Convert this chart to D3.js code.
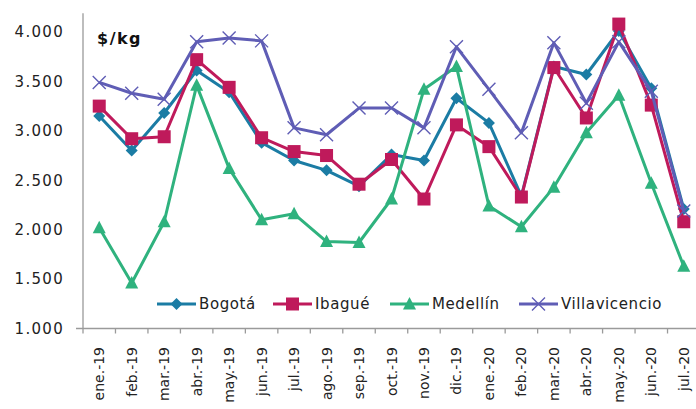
<!DOCTYPE html>
<html>
<head>
<meta charset="utf-8">
<script src="https://cdn.jsdelivr.net/npm/d3@7"></script>
<style>
  body { margin: 0; background: #fff; }
  svg text { font-family: "DejaVu Sans", sans-serif; fill: #222; }
</style>
</head>
<body>
<svg id="chart" width="696" height="409"></svg>
<script>
// months
var months = ["ene.-19", "feb.-19", "mar.-19", "abr.-19", "may.-19", "jun.-19", "jul.-19",
  "ago.-19", "sep.-19", "oct.-19", "nov.-19", "dic.-19", "ene.-20", "feb.-20", "mar.-20",
  "abr.-20", "may.-20", "jun.-20", "jul.-20"];

// $/kg by city
var bogota = [3150, 2800, 3180, 3610, 3390, 2880, 2700, 2600, 2440, 2760, 2700, 3330, 3080, 2340, 3650, 3570, 4010, 3430, 2210];
var ibague = [3250, 2920, 2940, 3720, 3440, 2930, 2790, 2750, 2460, 2710, 2310, 3060, 2840, 2330, 3640, 3130, 4080, 3260, 2080];
var medellin = [2020, 1460, 2080, 3460, 2620, 2100, 2160, 1880, 1870, 2310, 3420, 3650, 2240, 2030, 2430, 2980, 3360, 2470, 1630];
var villavicencio = [3490, 3380, 3320, 3900, 3940, 3910, 3030, 2960, 3230, 3230, 3030, 3850, 3420, 2980, 3890, 3280, 3900, 3400, 2190];

var yTicks = [1000, 1500, 2000, 2500, 3000, 3500, 4000];

var series = [
  {name: "Bogotá", values: bogota, color: "#1b7ca4", marker: "diamond"},
  {name: "Ibagué", values: ibague, color: "#bf1a5b", marker: "square"},
  {name: "Medellín", values: medellin, color: "#2fb27e", marker: "triangle"},
  {name: "Villavicencio", values: villavicencio, color: "#5f5db5", marker: "cross"}
];

var svg = d3.select("#chart");
var axisColor = "#9a9a9a";

var x = d3.scaleBand().domain(months).range([83, 700]).padding(0);
var y = d3.scaleLinear().domain([1000, 4190]).range([328.5, 13.2]);

// y axis
svg.append("line")
  .attr("x1", 83).attr("x2", 83)
  .attr("y1", y(4190)).attr("y2", y(1000))
  .attr("stroke", axisColor).attr("stroke-width", 1.3);

svg.selectAll("text.ytick")
  .data(yTicks)
  .enter().append("text")
  .attr("class", "ytick")
  .attr("x", 64)
  .attr("y", function(d) { return y(d); })
  .attr("dy", "0.36em")
  .attr("text-anchor", "end")
  .style("font-size", "15px")
  .style("letter-spacing", "1.3px")
  .text(function(d) { return d3.format(",")(d).replace(",", "."); });

// x axis
svg.append("line")
  .attr("x1", 76).attr("x2", 700)
  .attr("y1", y(1000)).attr("y2", y(1000))
  .attr("stroke", axisColor).attr("stroke-width", 1.3);

var xTickPos = months.map(function(m) { return x(m); }).concat([x.range()[1]]);
svg.selectAll("line.xtick")
  .data(xTickPos)
  .enter().append("line")
  .attr("class", "xtick")
  .attr("x1", function(d) { return d; }).attr("x2", function(d) { return d; })
  .attr("y1", y(1000)).attr("y2", y(1000) + 5)
  .attr("stroke", axisColor).attr("stroke-width", 1.3);

svg.selectAll("text.xlabel")
  .data(months)
  .enter().append("text")
  .attr("class", "xlabel")
  .attr("transform", function(d) {
    return "translate(" + (x(d) + x.bandwidth() / 2) + "," + 347 + ") rotate(-90)";
  })
  .attr("dy", "0.36em")
  .attr("text-anchor", "end")
  .style("font-size", "14px")
  .text(function(d) { return d; });

// unit label
svg.append("text")
  .attr("x", 97).attr("y", 44)
  .style("font-size", "16px")
  .style("font-weight", "bold")
  .style("letter-spacing", "1.5px")
  .style("fill", "#111")
  .text("$/kg");

// markers
function drawMarker(g, type, color, cx, cy) {
  if (type === "diamond") {
    g.append("path")
      .attr("d", "M0,-6L6,0L0,6L-6,0Z")
      .attr("transform", "translate(" + cx + "," + cy + ")")
      .attr("fill", color);
  } else if (type === "square") {
    g.append("rect")
      .attr("x", cx - 6.5).attr("y", cy - 6.5)
      .attr("width", 13).attr("height", 13)
      .attr("fill", color);
  } else if (type === "triangle") {
    g.append("path")
      .attr("d", "M0,-7L6.5,5.5L-6.5,5.5Z")
      .attr("transform", "translate(" + cx + "," + cy + ")")
      .attr("fill", color);
  } else {
    g.append("path")
      .attr("d", "M-6.5,-6.5L6.5,6.5M-6.5,6.5L6.5,-6.5")
      .attr("transform", "translate(" + cx + "," + cy + ")")
      .attr("stroke", color).attr("stroke-width", 1.4)
      .attr("fill", "none");
  }
}

var line = d3.line()
  .x(function(d, i) { return x(months[i]) + x.bandwidth() / 2; })
  .y(function(d) { return y(d); });

series.forEach(function(s) {
  var g = svg.append("g").attr("class", "series");
  g.append("path")
    .datum(s.values)
    .attr("d", line)
    .attr("fill", "none")
    .attr("stroke", s.color)
    .attr("stroke-width", 3)
    .attr("stroke-linejoin", "round");
  s.values.forEach(function(v, i) {
    drawMarker(g, s.marker, s.color, x(months[i]) + x.bandwidth() / 2, y(v));
  });
});

// legend
var legendX = [157, 273, 390, 519];
var legendY = 304;
series.forEach(function(s, i) {
  var g = svg.append("g").attr("class", "legend");
  g.append("line")
    .attr("x1", legendX[i]).attr("x2", legendX[i] + 39)
    .attr("y1", legendY).attr("y2", legendY)
    .attr("stroke", s.color).attr("stroke-width", 3);
  drawMarker(g, s.marker, s.color, legendX[i] + 19.5, legendY);
  g.append("text")
    .attr("x", legendX[i] + 42)
    .attr("y", legendY)
    .attr("dy", "0.36em")
    .style("font-size", "15px")
    .style("letter-spacing", "0.6px")
    .text(s.name);
});
</script>
</body>
</html>
